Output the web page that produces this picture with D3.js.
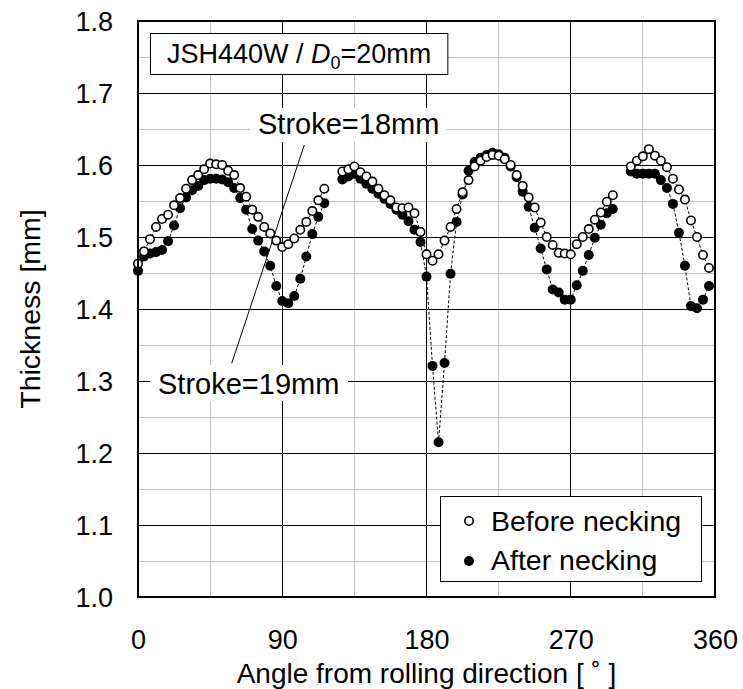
<!DOCTYPE html>
<html>
<head>
<meta charset="utf-8">
<script src="https://cdn.jsdelivr.net/npm/d3@7"></script>
<style>
  html, body { margin: 0; padding: 0; background: #fff; }
  svg { display: block; font-family: "Liberation Sans", Arial, sans-serif; }
</style>
</head>
<body>
<svg id="chart" width="743" height="689"></svg>
<script>
// ---------------- data ----------------
const angles = [0,3.75,7.5,11.25,15,18.75,22.5,26.25,30,33.75,37.5,41.25,45,48.75,52.5,56.25,60,63.75,67.5,71.25,75,78.75,82.5,86.25,
  90,93.75,97.5,101.25,105,108.75,112.5,116.25,120,123.75,127.5,131.25,135,138.75,142.5,146.25,150,153.75,157.5,161.25,165,168.75,172.5,176.25,
  180,183.75,187.5,191.25,195,198.75,202.5,206.25,210,213.75,217.5,221.25,225,228.75,232.5,236.25,240,243.75,247.5,251.25,255,258.75,262.5,266.25,
  270,273.75,277.5,281.25,285,288.75,292.5,296.25,300,303.75,307.5,311.25,315,318.75,322.5,326.25,330,333.75,337.5,341.25,345,348.75,352.5,356.25];

const beforeNecking = [1.463,1.480,1.497,1.514,1.525,1.531,1.544,1.554,1.567,1.579,1.586,1.594,1.602,1.601,1.600,1.592,1.586,1.568,1.556,1.538,1.528,1.514,1.505,1.495,
  1.486,1.490,1.498,1.510,1.521,1.536,1.551,1.567,null,null,1.591,1.594,1.598,1.590,1.584,1.577,1.567,1.558,1.551,1.541,1.540,1.541,1.533,1.507,
  1.476,1.467,1.476,1.495,1.514,1.539,1.562,1.579,1.598,1.606,1.611,1.614,1.613,1.608,1.600,1.586,1.571,1.555,1.541,1.520,1.500,1.489,1.478,1.477,
  1.476,1.490,1.500,1.511,1.524,1.534,1.549,1.558,null,null,1.598,1.606,1.612,1.622,1.613,1.606,1.597,1.581,1.566,1.552,1.523,1.500,1.475,1.457];

const afterNecking = [1.453,1.473,1.477,1.479,1.482,1.494,1.516,1.540,1.555,1.565,1.571,1.579,1.581,1.581,1.580,1.576,1.568,1.554,1.538,1.511,1.495,1.480,1.460,1.432,
  1.411,1.408,1.418,1.442,1.473,1.504,1.528,1.547,null,null,1.580,1.584,1.588,1.581,1.574,1.567,1.560,1.553,1.546,1.538,1.531,1.522,1.510,1.493,
  1.445,1.321,1.215,1.325,1.449,1.521,1.559,1.592,1.604,1.610,1.614,1.617,1.615,1.610,1.598,1.583,1.563,1.542,1.513,1.484,1.455,1.427,1.423,1.413,
  1.413,1.433,1.453,1.475,1.499,1.517,1.533,1.539,null,null,1.591,1.588,1.588,1.588,1.588,1.579,1.568,1.546,1.506,1.460,1.404,1.401,1.413,1.432];

const xTicks = [0, 90, 180, 270, 360];
const xMinor = [45, 135, 225, 315];
const yTicks = [1.0, 1.1, 1.2, 1.3, 1.4, 1.5, 1.6, 1.7, 1.8];
const yMinor = [1.05, 1.15, 1.25, 1.35, 1.45, 1.55, 1.65, 1.75];

const xTitle = "Angle from rolling direction [ \u02DA ]";
const yTitle = "Thickness [mm]";
const seriesNames = ["Before necking", "After necking"];

// ---------------- layout ----------------
const svg = d3.select("#chart");
const L = 138, R = 715, T = 21, B = 597;
const x = d3.scaleLinear().domain([0, 360]).range([L, R]);
const y = d3.scaleLinear().domain([1.0, 1.8]).range([B, T]);
const FONT = "'Liberation Sans', Arial, sans-serif";

// minor grid
const grid = svg.append("g").attr("shape-rendering", "crispEdges");
grid.selectAll(".vmin").data(xMinor).join("line")
  .attr("x1", d => x(d)).attr("x2", d => x(d)).attr("y1", T).attr("y2", B)
  .attr("stroke", "#c0c0c0").attr("stroke-width", 1);
grid.selectAll(".hmin").data(yMinor).join("line")
  .attr("y1", d => y(d)).attr("y2", d => y(d)).attr("x1", L).attr("x2", R)
  .attr("stroke", "#c0c0c0").attr("stroke-width", 1);
// major grid
grid.selectAll(".vmaj").data(xTicks).join("line")
  .attr("x1", d => x(d)).attr("x2", d => x(d)).attr("y1", T).attr("y2", B)
  .attr("stroke", "#000").attr("stroke-width", 1);
grid.selectAll(".hmaj").data(yTicks).join("line")
  .attr("y1", d => y(d)).attr("y2", d => y(d)).attr("x1", L).attr("x2", R)
  .attr("stroke", "#000").attr("stroke-width", 1);

// axes (labels only)
const xAxis = svg.append("g").attr("transform", `translate(0,${B})`)
  .call(d3.axisBottom(x).tickValues(xTicks).tickSize(0).tickFormat(d3.format("d")));
xAxis.select(".domain").remove();
xAxis.selectAll("text").attr("y", 52).attr("dy", 0)
  .style("font-size", "27px").style("font-family", FONT).attr("fill", "#000");

const yAxis = svg.append("g").attr("transform", `translate(${L},0)`)
  .call(d3.axisLeft(y).tickValues(yTicks).tickSize(0).tickPadding(25).tickFormat(d3.format(".1f")));
yAxis.select(".domain").remove();
yAxis.selectAll("text").attr("dy", "0.35em")
  .style("font-size", "27px").style("font-family", FONT).attr("fill", "#000");

// axis titles
svg.append("text").attr("x", (L + R) / 2).attr("y", 682.5)
  .attr("text-anchor", "middle").style("font-size", "28px").style("font-family", FONT)
  .text(xTitle);
svg.append("text").attr("transform", `translate(40,${(T + B) / 2}) rotate(-90)`)
  .attr("text-anchor", "middle").style("font-size", "28.5px").style("font-family", FONT)
  .text(yTitle);

// stroke annotation boxes
svg.append("rect").attr("x", 250).attr("y", 108).attr("width", 197).attr("height", 34).attr("fill", "#fff");
svg.append("text").attr("x", 258).attr("y", 134).style("font-size", "29px").style("font-family", FONT).text("Stroke=18mm");
svg.append("rect").attr("x", 150).attr("y", 365).attr("width", 198).attr("height", 36).attr("fill", "#fff");
svg.append("text").attr("x", 158).attr("y", 394).style("font-size", "29px").style("font-family", FONT).text("Stroke=19mm");
svg.append("line").attr("x1", 304.3).attr("y1", 145).attr("x2", 231.7).attr("y2", 363.3)
  .attr("stroke", "#000").attr("stroke-width", 1);

// series lines
const pts = vals => angles.map((a, i) => ({ a, v: vals[i] }));
const line = d3.line().defined(d => d.v != null).x(d => x(d.a)).y(d => y(d.v));
[beforeNecking, afterNecking].forEach(vals => {
  svg.append("path").datum(pts(vals)).attr("d", line)
    .attr("fill", "none").attr("stroke", "#000").attr("stroke-width", 1).attr("stroke-dasharray", "3,2");
});

// markers
svg.append("g").selectAll("circle").data(pts(afterNecking).filter(d => d.v != null)).join("circle")
  .attr("cx", d => x(d.a)).attr("cy", d => y(d.v)).attr("r", 5).attr("fill", "#000");
svg.append("g").selectAll("circle").data(pts(beforeNecking).filter(d => d.v != null)).join("circle")
  .attr("cx", d => x(d.a)).attr("cy", d => y(d.v)).attr("r", 4.2)
  .attr("fill", "#fff").attr("stroke", "#000").attr("stroke-width", 1.6);

// title box
const tb = svg.append("g");
const tbRect = tb.append("rect").attr("x", 150.5).attr("y", 33.5).attr("height", 41)
  .attr("fill", "#fff").attr("stroke", "#000").attr("stroke-width", 1);
const tt = tb.append("text").attr("x", 167).attr("y", 63).style("font-size", "27px").style("font-family", FONT);
tt.append("tspan").text("JSH440W / ");
tt.append("tspan").style("font-style", "italic").text("D");
tt.append("tspan").attr("dy", 6).style("font-size", "18px").text("0");
tt.append("tspan").attr("dy", -6).text("=20mm");
tbRect.attr("width", tt.node().getComputedTextLength() + 33);

// legend
const lg = svg.append("g");
lg.append("rect").attr("x", 440.5).attr("y", 496.5).attr("width", 261).attr("height", 85)
  .attr("fill", "#fff").attr("stroke", "#000").attr("stroke-width", 1);
lg.append("circle").attr("cx", 469).attr("cy", 521).attr("r", 4.2)
  .attr("fill", "#fff").attr("stroke", "#000").attr("stroke-width", 1.6);
lg.append("circle").attr("cx", 469).attr("cy", 561).attr("r", 5).attr("fill", "#000");
lg.append("text").attr("x", 491).attr("y", 531).style("font-size", "28.5px").style("font-family", FONT).text(seriesNames[0]);
lg.append("text").attr("x", 491).attr("y", 570).style("font-size", "28.5px").style("font-family", FONT).text(seriesNames[1]);

// plot border
svg.append("rect").attr("x", L).attr("y", T).attr("width", R - L).attr("height", B - T)
  .attr("fill", "none").attr("stroke", "#000").attr("stroke-width", 2);
</script>
</body>
</html>
